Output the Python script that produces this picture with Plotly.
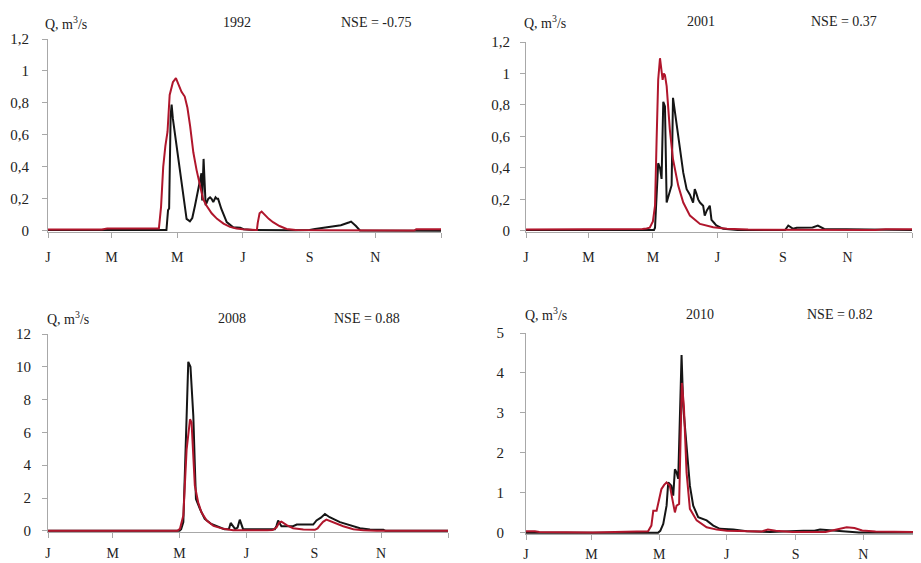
import plotly.graph_objects as go

# ---------------- data (day of year, discharge m3/s) ----------------
obs_1992_day = [0, 60, 110, 111.5, 112.5, 113.9, 114.8, 116, 119.5, 122.5, 125.6, 128.7, 131.8, 134, 136.5, 139,
                141, 142.5, 143.2, 144.5, 146.4, 148.8, 150.5, 151.9, 153.5, 155.6, 157, 158, 161, 166, 172, 178.5,
                181.6, 190, 230, 243, 248, 252.5, 258, 265, 272, 280, 281.5, 286, 289.7, 365]
obs_1992_q = [0.005, 0.005, 0.005, 0.13, 0.14, 0.72, 0.79, 0.7, 0.53, 0.38, 0.24, 0.075, 0.06, 0.08, 0.157, 0.24,
              0.3, 0.36, 0.19, 0.45, 0.16, 0.2, 0.21, 0.2, 0.18, 0.21, 0.2, 0.2, 0.137, 0.055, 0.023, 0.02,
              0.01, 0.005, 0.003, 0.005, 0.012, 0.017, 0.02, 0.027, 0.035, 0.054, 0.058, 0.03, 0.002, 0.0]
sim_1992_day = [0, 50, 55, 100, 103, 105, 107, 109, 111, 113, 116, 118.8, 121, 124, 127, 129.5, 132, 135, 138, 141,
                144, 147, 152, 157, 163, 169, 175, 181, 194, 194.8, 196.5, 198.4, 201, 205, 209, 215, 221.6, 230,
                260, 300, 340, 342, 365]
sim_1992_q = [0.008, 0.008, 0.014, 0.014, 0.015, 0.15, 0.4, 0.53, 0.62, 0.85, 0.93, 0.955, 0.92, 0.87, 0.84, 0.77,
              0.655, 0.49, 0.38, 0.28, 0.2, 0.16, 0.11, 0.075, 0.045, 0.025, 0.015, 0.01, 0.005, 0.05, 0.11, 0.12,
              0.1, 0.075, 0.054, 0.03, 0.012, 0.006, 0.004, 0.002, 0.002, 0.01, 0.01]

obs_2001_day = [0, 121, 122, 123.5, 125, 126.7, 128.2, 129.8, 131.4, 133, 134.5, 136, 137.7, 139, 142.2, 145.4,
                148.7, 151.9, 155, 158, 159.6, 161, 162.8, 164.5, 166, 167.5, 169, 171, 173.8, 175.4, 178, 180,
                186.5, 200, 245, 248, 252.6, 256, 271, 276, 282, 365]
obs_2001_q = [0.005, 0.005, 0.02, 0.265, 0.43, 0.40, 0.33, 0.82, 0.79, 0.18, 0.22, 0.245, 0.29, 0.845, 0.687, 0.52,
              0.37, 0.265, 0.23, 0.18, 0.265, 0.24, 0.2, 0.18, 0.17, 0.16, 0.097, 0.13, 0.16, 0.07, 0.05, 0.034,
              0.013, 0.005, 0.005, 0.034, 0.013, 0.02, 0.022, 0.034, 0.012, 0.005]
sim_2001_day = [0, 50, 60, 110, 114, 117, 120, 122, 123.5, 125, 126.7, 128, 129.2, 130.3, 131.4, 133, 136, 139,
                144, 148.7, 155, 164.5, 177, 190, 210, 330, 340, 365]
sim_2001_q = [0.008, 0.008, 0.012, 0.012, 0.015, 0.02, 0.06, 0.16, 0.58, 0.96, 1.097, 1.03, 0.96, 1.0, 0.99, 0.92,
              0.645, 0.455, 0.286, 0.18, 0.097, 0.044, 0.023, 0.013, 0.008, 0.005, 0.01, 0.01]

obs_2008_day = [0, 120, 121.5, 123.5, 126.5, 128, 130, 132.6, 134, 135, 138.7, 143, 149, 155, 161, 165, 166.7,
                170.8, 173, 175, 178, 190, 200, 207, 208.5, 210, 213, 223.6, 227, 236, 242, 245, 249, 252.7, 257,
                266.4, 275.5, 284.7, 293.8, 306, 308, 365]
obs_2008_q = [0.0, 0.0, 0.1, 0.53, 7.0, 10.3, 10.0, 7.0, 3.96, 1.94, 1.33, 0.73, 0.42, 0.28, 0.1, 0.1, 0.48,
              0.1, 0.2, 0.68, 0.1, 0.1, 0.08, 0.1, 0.3, 0.63, 0.28, 0.28, 0.38, 0.36, 0.38, 0.63, 0.8, 1.03, 0.83,
              0.53, 0.36, 0.16, 0.08, 0.06, 0.0, 0.0]
sim_2008_day = [0, 118, 120.4, 123.5, 126.5, 129.6, 131, 132.6, 134, 137, 140, 144.8, 151, 160, 169, 200, 205,
                208.6, 211, 213, 217.8, 223.6, 233, 243.5, 246, 248, 251, 254, 260, 269.4, 278.6, 287.7, 300, 365]
sim_2008_q = [0.0, 0.0, 0.12, 0.93, 4.97, 6.8, 6.6, 4.56, 2.75, 1.74, 1.13, 0.63, 0.3, 0.12, 0.03, 0.03, 0.05,
              0.22, 0.5, 0.56, 0.35, 0.16, 0.08, 0.06, 0.15, 0.32, 0.55, 0.68, 0.53, 0.28, 0.1, 0.03, 0.0, 0.0]

obs_2010_day = [0, 119, 121, 123.7, 126.7, 128.2, 131, 132.7, 134.2, 135.7, 137.2, 138.7, 140.2, 141.7, 144.7,
                147.7, 150.7, 155.2, 162.8, 168.8, 174.8, 186.9, 199, 220, 250, 260, 265, 273, 280, 300, 356]
obs_2010_q = [0.0, 0.0, 0.05, 0.22, 0.68, 1.26, 1.18, 0.93, 1.59, 1.51, 1.35, 2.75, 4.45, 3.17, 2.09,
              1.18, 0.68, 0.39, 0.31, 0.18, 0.1, 0.08, 0.04, 0.02, 0.05, 0.05, 0.08, 0.06, 0.05, 0.01, 0.01]
sim_2010_day = [0, 8, 12, 60, 100, 110, 113, 114.7, 117.7, 119, 122, 124.5, 126.7, 129.6, 131, 132.7, 134.2,
                135.7, 138, 139.3, 140.5, 142.3, 144.7, 147.7, 153.8, 162.8, 172, 181, 200, 212, 218, 225, 240,
                270, 280, 289, 296, 303, 315, 356]
sim_2010_q = [0.04, 0.04, 0.02, 0.01, 0.03, 0.04, 0.18, 0.55, 0.55, 0.72, 1.09, 1.2, 1.26, 1.18, 1.0, 0.76, 0.51,
              0.68, 0.72, 2.34, 3.75, 3.17, 1.51, 0.6, 0.31, 0.14, 0.08, 0.05, 0.03, 0.03, 0.08, 0.05, 0.02,
              0.02, 0.08, 0.14, 0.12, 0.06, 0.03, 0.02]

years = ["1992", "2001", "2008", "2010"]
nse_labels = ["NSE = -0.75", "NSE = 0.37", "NSE = 0.88", "NSE = 0.82"]
month_tickvals = [0, 59, 120, 181, 243, 304, 365]
month_ticktext = ["J", "M", "M", "J", "S", "N", ""]
y_tickvals_1 = [0, 0.2, 0.4, 0.6, 0.8, 1.0, 1.2]
y_ticktext_1 = ["0", "0,2", "0,4", "0,6", "0,8", "1", "1,2"]
y_tickvals_3 = [0, 2, 4, 6, 8, 10, 12]
y_tickvals_4 = [0, 1, 2, 3, 4, 5]

# ---------------- figure ----------------
OFF = 8                      # page body margin of the browser
W, H = 921 - OFF, 563 - OFF
BLACK = "#151515"
RED = "#b0162c"
AX = "#a8a8a8"
FONT = "'Liberation Serif', 'Times New Roman', 'DejaVu Serif', serif"


def fx(px):
    return (px - OFF) / W


def fy(py):
    return 1 - (py - OFF) / H


fig = go.Figure()

panels = [
    dict(obs=(obs_1992_day, obs_1992_q), sim=(sim_1992_day, sim_1992_q), xpx=(48, 441), ypx=(232, 39),
         yr=1.2, xr=365, tv=y_tickvals_1, tt=y_ticktext_1, ystand=10, xstand=7,
         qx=43, ty=23, yearx=237, nsex=376),
    dict(obs=(obs_2001_day, obs_2001_q), sim=(sim_2001_day, sim_2001_q), xpx=(526, 912), ypx=(232, 42),
         yr=1.2, xr=365, tv=y_tickvals_1, tt=y_ticktext_1, ystand=7, xstand=7,
         qx=522, ty=22, yearx=701, nsex=844),
    dict(obs=(obs_2008_day, obs_2008_q), sim=(sim_2008_day, sim_2008_q), xpx=(48, 448), ypx=(532, 334),
         yr=12, xr=365, tv=y_tickvals_3, tt=[str(v) for v in y_tickvals_3], ystand=8, xstand=3,
         qx=45, ty=318, yearx=232, nsex=367),
    dict(obs=(obs_2010_day, obs_2010_q), sim=(sim_2010_day, sim_2010_q), xpx=(526, 921), ypx=(534, 333),
         yr=5, xr=356, tv=y_tickvals_4, tt=[str(v) for v in y_tickvals_4], ystand=13, xstand=2,
         qx=523, ty=314, yearx=700, nsex=840),
]

annotations = []
for i, p in enumerate(panels):
    n = i + 1
    xa = "x" if n == 1 else f"x{n}"
    ya = "y" if n == 1 else f"y{n}"
    fig.add_trace(go.Scatter(x=p["obs"][0], y=p["obs"][1], mode="lines",
                             line=dict(color=BLACK, width=2), xaxis=xa, yaxis=ya, showlegend=False))
    fig.add_trace(go.Scatter(x=p["sim"][0], y=p["sim"][1], mode="lines",
                             line=dict(color=RED, width=2), xaxis=xa, yaxis=ya, showlegend=False))
    xd = [fx(p["xpx"][0]), min(1.0, fx(p["xpx"][1]))]
    yd = [fy(p["ypx"][0]), fy(p["ypx"][1])]
    lo = -p["yr"] * 0.006
    xkey = "xaxis" if n == 1 else f"xaxis{n}"
    ykey = "yaxis" if n == 1 else f"yaxis{n}"
    fig.update_layout(**{
        xkey: dict(domain=xd, range=[0, p["xr"]], anchor=ya, tickmode="array", automargin=False,
                   tickvals=month_tickvals, ticktext=month_ticktext, showgrid=False, zeroline=False,
                   showline=True, linecolor=AX, linewidth=1, ticks="outside", ticklen=5, tickcolor=AX,
                   tickfont=dict(family=FONT, size=14, color="#222"), ticklabelstandoff=p["xstand"]),
        ykey: dict(domain=yd, range=[lo, p["yr"]], anchor=xa, tickmode="array", automargin=False,
                   tickvals=p["tv"], ticktext=p["tt"], showgrid=False, zeroline=False,
                   showline=True, linecolor=AX, linewidth=1, ticks="outside", ticklen=5, tickcolor=AX,
                   tickfont=dict(family=FONT, size=15, color="#222"), ticklabelstandoff=p["ystand"]),
    })
    ty = fy(p["ty"])
    annotations.append(dict(x=fx(p["qx"]), y=ty, xref="paper", yref="paper", xanchor="left", yanchor="middle",
                            text="Q, m<sup>3</sup>/s", showarrow=False,
                            font=dict(family=FONT, size=14, color="#222")))
    annotations.append(dict(x=fx(p["yearx"]), y=ty, xref="paper", yref="paper", xanchor="center",
                            yanchor="middle", text=years[i], showarrow=False,
                            font=dict(family=FONT, size=14, color="#222")))
    annotations.append(dict(x=fx(p["nsex"]), y=ty, xref="paper", yref="paper", xanchor="center",
                            yanchor="middle", text=nse_labels[i], showarrow=False,
                            font=dict(family=FONT, size=14, color="#222")))

fig.update_layout(width=W, height=H, margin=dict(l=0, r=0, t=0, b=0, autoexpand=False),
                  paper_bgcolor="white", plot_bgcolor="white", annotations=annotations,
                  hovermode=False, showlegend=False)

fig.write_html("out.html")
